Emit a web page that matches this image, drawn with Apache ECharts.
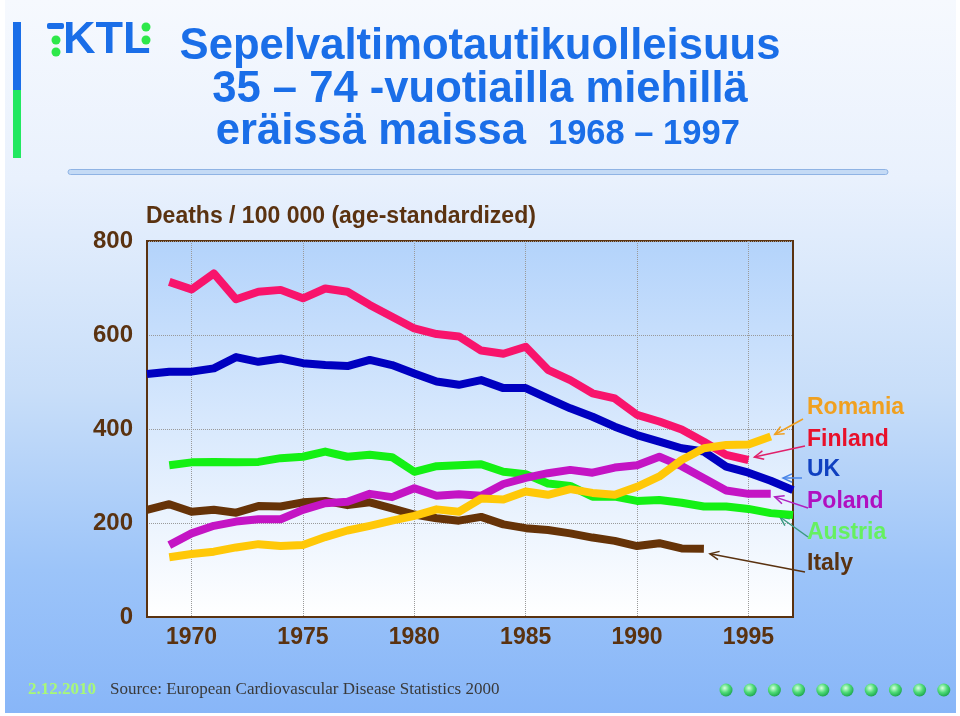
<!DOCTYPE html>
<html><head><meta charset="utf-8">
<script src="https://cdn.jsdelivr.net/npm/echarts@6/dist/echarts.min.js"></script>
<style>
html,body{margin:0;padding:0;background:#fff;}
#bg{position:absolute;left:5px;top:0;width:951px;height:713px;background:linear-gradient(to bottom,#f6f9fe 0%,#e9f1fd 25%,#c8def9 55%,#9cc4f9 80%,#88b6f8 100%);}
#chart{position:absolute;left:0;top:0;width:960px;height:716px;}
</style></head><body>
<div id="bg"></div><div id="chart"></div>
<script>
var years = ['1968','1969','1970','1971','1972','1973','1974','1975','1976','1977','1978','1979','1980','1981','1982','1983','1984','1985','1986','1987','1988','1989','1990','1991','1992','1993','1994','1995','1996','1997'];
var finland = [null,713,697,731,676,692,696,678,699,692,664,639,614,602,597,567,560,575,526,504,476,465,430,416,399,373,345,334,null,null];
var uk      = [517,522,522,529,553,543,550,540,536,534,547,536,518,501,494,504,487,487,465,444,426,405,387,373,359,352,320,307,290,270];
var austria = [null,323,329,330,329,330,338,341,352,341,345,340,309,321,323,325,309,304,284,279,256,256,247,249,243,235,235,230,221,217];
var italy   = [228,240,224,228,222,236,235,244,247,238,244,231,218,210,205,213,197,189,185,178,169,162,151,157,146,145,null,null,null,null];
var poland  = [null,153,178,194,203,208,208,228,242,245,262,255,274,258,261,258,283,296,306,313,307,318,323,341,321,295,269,262,262,null];
var romania = [null,127,134,139,148,155,151,153,170,184,194,205,215,229,224,252,250,267,260,272,264,260,277,299,334,359,366,367,384,null];
var yTicks = {min:0, max:800, interval:200};
var countryNames = ['Romania','Finland','UK','Poland','Austria','Italy'];

var BROWN = '#5a3210';
var SANS = '"Liberation Sans", Arial, sans-serif';
var SERIF = '"Liberation Serif", "Times New Roman", serif';
var BLUE = '#1a6ee8';

var chart = echarts.init(document.getElementById('chart'), null, {renderer:'canvas'});

function mk(name, data, color){
  return {name:name, type:'line', data:data, symbol:'none', connectNulls:false,
    lineStyle:{color:color, width:8, cap:'butt', join:'round'}, itemStyle:{color:color}, silent:true, animation:false};
}
var fiveYear = function(i, v){ return (+v) % 5 === 0; };

chart.setOption({
  animation:false,
  backgroundColor:'transparent',
  grid:{left:147, top:241, right:167, bottom:99, show:true, borderColor:BROWN, borderWidth:2,
    backgroundColor:{type:'linear',x:0,y:0,x2:0,y2:1,colorStops:[{offset:0,color:'#b3d3fb'},{offset:0.5,color:'#d9e9fd'},{offset:1,color:'#ffffff'}]}},
  xAxis:{type:'category', data:years, boundaryGap:false,
    axisLine:{show:true, lineStyle:{color:BROWN, width:2}},
    axisTick:{show:false},
    axisLabel:{interval:fiveYear, color:BROWN, fontFamily:SANS, fontWeight:'bold', fontSize:23, margin:9},
    splitLine:{show:true, interval:fiveYear, lineStyle:{color:'#9a9a9a', type:'dotted', width:1}}},
  yAxis:{type:'value', min:yTicks.min, max:yTicks.max, interval:yTicks.interval,
    axisLine:{show:true, lineStyle:{color:BROWN, width:2}},
    axisTick:{show:false},
    axisLabel:{color:BROWN, fontFamily:SANS, fontWeight:'bold', fontSize:24, margin:14, padding:[0,0,8,0]},
    splitLine:{show:true, lineStyle:{color:'#9a9a9a', type:'dotted', width:1}}},
  series:[
    mk('Finland', finland, '#f8146c'),
    mk('UK', uk, '#0000c0'),
    mk('Austria', austria, '#14f014'),
    mk('Italy', italy, '#663308'),
    mk('Poland', poland, '#c414c4'),
    mk('Romania', romania, '#ffc808')
  ]
});

var g = [];
// left vertical bar
g.push({type:'rect', shape:{x:13,y:22,width:8,height:68}, style:{fill:BLUE}});
g.push({type:'rect', shape:{x:13,y:90,width:8,height:68}, style:{fill:'#22e860'}});
// logo
g.push({type:'rect', shape:{x:47,y:23,width:17,height:6,r:2}, style:{fill:BLUE}});
g.push({type:'circle', shape:{cx:56,cy:40,r:4.5}, style:{fill:'#2ee84a'}});
g.push({type:'circle', shape:{cx:56,cy:52,r:4.5}, style:{fill:'#2ee84a'}});
g.push({type:'text', x:63, y:41, style:{text:'KTL', font:'bold 45px '+SANS, fill:BLUE, textAlign:'left', textVerticalAlign:'middle'}});
g.push({type:'circle', shape:{cx:146,cy:27,r:4.5}, style:{fill:'#2ee84a'}});
g.push({type:'circle', shape:{cx:146,cy:40,r:4.5}, style:{fill:'#2ee84a'}});
// title
g.push({type:'text', x:480, y:47, style:{text:'Sepelvaltimotautikuolleisuus', font:'bold 43.6px '+SANS, fill:BLUE, textAlign:'center', textVerticalAlign:'middle'}});
g.push({type:'text', x:480, y:90, style:{text:'35 – 74 -vuotiailla miehillä', font:'bold 43.6px '+SANS, fill:BLUE, textAlign:'center', textVerticalAlign:'middle'}});
g.push({type:'text', x:526, y:132, style:{text:'eräissä maissa', font:'bold 43.6px '+SANS, fill:BLUE, textAlign:'right', textVerticalAlign:'middle'}});
g.push({type:'text', x:548, y:134, style:{text:'1968 – 1997', font:'bold 34.5px '+SANS, fill:BLUE, textAlign:'left', textVerticalAlign:'middle'}});
// separator
g.push({type:'rect', shape:{x:68,y:169.5,width:820,height:5,r:2.5}, style:{fill:'#c4daf5', stroke:'#8fb3e4', lineWidth:1}});
// y axis name
g.push({type:'text', x:146, y:217, style:{text:'Deaths / 100 000 (age-standardized)', font:'bold 23px '+SANS, fill:BROWN, textAlign:'left', textVerticalAlign:'middle'}});
// legend labels
var labelColors = ['#f0a020','#e8102a','#1040c0','#b010c0','#66f060',BROWN];
var labelY = [408,440,470,502,533,564];
for (var i=0;i<countryNames.length;i++){
  g.push({type:'text', x:807, y:labelY[i], style:{text:countryNames[i], font:'bold 23px '+SANS, fill:labelColors[i], textAlign:'left', textVerticalAlign:'middle'}});
}
// footer
g.push({type:'text', x:28, y:690, style:{text:'2.12.2010', font:'bold 17px '+SERIF, fill:'#a8f878', textAlign:'left', textVerticalAlign:'middle'}});
g.push({type:'text', x:110, y:690, style:{text:'Source: European Cardiovascular Disease Statistics 2000', font:'17px '+SERIF, fill:'#3a3a3a', textAlign:'left', textVerticalAlign:'middle'}});
for (var k=0;k<10;k++){
  var cx = 726 + k*24.2;
  g.push({type:'circle', shape:{cx:cx, cy:690, r:6.5}, style:{fill:{type:'radial',x:0.4,y:0.35,r:0.7,colorStops:[{offset:0,color:'#d8ffe0'},{offset:0.5,color:'#50dc78'},{offset:1,color:'#17a048'}]}}});
}
// arrows
function lastIdx(arr){ for (var j=arr.length-1;j>=0;j--) if (arr[j]!=null) return j; return -1; }
var arrowSpecs = [
  {data:romania, color:'#f0a020', start:[803,419], off:[4,-2]},
  {data:finland, color:'#e0206a', start:[805,446], off:[6,-3]},
  {data:uk,      color:'#4a86e8', start:[802,478], off:[-10,-12]},
  {data:poland,  color:'#b020c0', start:[808,508], off:[4,3]},
  {data:austria, color:'#3a9a80', start:[808,537], off:[-13,2]},
  {data:italy,   color:BROWN,     start:[805,572], off:[6,5]}
];
arrowSpecs.forEach(function(a){
  var li = lastIdx(a.data);
  var p = chart.convertToPixel({xAxisIndex:0, yAxisIndex:0}, [li, a.data[li]]);
  var tip = [p[0]+a.off[0], p[1]+a.off[1]];
  var dx = a.start[0]-tip[0], dy = a.start[1]-tip[1];
  var len = Math.sqrt(dx*dx+dy*dy); var ux = dx/len, uy = dy/len;
  var ang = 25*Math.PI/180, L = 10;
  function rot(x,y,t){ return [x*Math.cos(t)-y*Math.sin(t), x*Math.sin(t)+y*Math.cos(t)]; }
  var r1 = rot(ux,uy,ang), r2 = rot(ux,uy,-ang);
  g.push({type:'line', shape:{x1:a.start[0],y1:a.start[1],x2:tip[0],y2:tip[1]}, style:{stroke:a.color, lineWidth:1.5}});
  g.push({type:'polyline', shape:{points:[[tip[0]+r1[0]*L, tip[1]+r1[1]*L], tip, [tip[0]+r2[0]*L, tip[1]+r2[1]*L]]}, style:{stroke:a.color, lineWidth:1.5, fill:null}});
});
chart.setOption({graphic:{elements:g}});
</script>
</body></html>
